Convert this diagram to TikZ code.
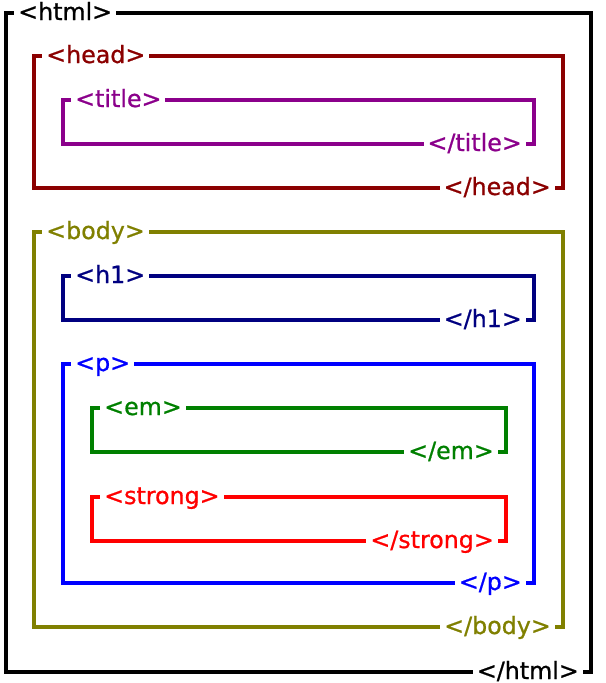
\documentclass[tikz,border=0pt]{standalone}
\usepackage{fontspec}
\setmainfont{DejaVu Sans}[FakeBold=0.8]
\definecolor{headred}{HTML}{8B0000}
\definecolor{titlepurple}{HTML}{8B008B}
\definecolor{bodyolive}{HTML}{808000}
\definecolor{hnavy}{HTML}{000080}
\definecolor{pblue}{HTML}{0000FF}
\definecolor{emgreen}{HTML}{008000}
\definecolor{strongred}{HTML}{FF0000}
\tikzset{
	opentag/.style={anchor=base west, fill=white, inner xsep=3pt, inner ysep=1pt, font=\fontsize{17.8}{20}\selectfont},
	closetag/.style={opentag, anchor=base east}
}

\begin{document}
\begin{tikzpicture}[x=0.75pt, y=-0.75pt]
			%%%%% START %%%%%
			
			\useasboundingbox (0, 0) rectangle (606, 683);
			
			\draw[line width=0.95mm, color=black] (6, 13) rectangle (591, 672);
			\node[opentag, text=black] (htmlopen) at (14, 20) {<html>};
			\node[closetag, text=black] (htmlclose) at (583, 679) {</html>};
			
			\draw[line width=0.8mm, color=headred] (34, 56) rectangle (563, 188);
			\node[opentag, text=headred] (headopen) at (42, 63) {<head>};
			\node[closetag, text=headred] (headclose) at (555, 195) {</head>};
			
			\draw[line width=0.8mm, color=titlepurple] (63, 100) rectangle (534, 144);
			\node[opentag, text=titlepurple] (titleopen) at (71, 107) {<title>};
			\node[closetag, text=titlepurple] (titleclose) at (526, 151) {</title>};
			
			\draw[line width=0.8mm, color=bodyolive] (34, 232) rectangle (563, 627);
			\node[opentag, text=bodyolive] (bodyopen) at (42, 239) {<body>};
			\node[closetag, text=bodyolive] (bodyclose) at (555, 634) {</body>};
			
			\draw[line width=0.8mm, color=hnavy] (63, 276) rectangle (534, 320);
			\node[opentag, text=hnavy] (hopen) at (71, 283) {<h1>};
			\node[closetag, text=hnavy] (hclose) at (526, 327) {</h1>};
			
			\draw[line width=0.8mm, color=pblue] (63, 364) rectangle (534, 583);
			\node[opentag, text=pblue] (popen) at (71, 371) {<p>};
			\node[closetag, text=pblue] (pclose) at (526, 590) {</p>};
			
			\draw[line width=0.8mm, color=emgreen] (92, 408) rectangle (506, 452);
			\node[opentag, text=emgreen] (emopen) at (100, 415) {<em>};
			\node[closetag, text=emgreen] (emclose) at (498, 459) {</em>};
			
			\draw[line width=0.8mm, color=strongred] (92, 497) rectangle (506, 541);
			\node[opentag, text=strongred] (strongopen) at (100, 504) {<strong>};
			\node[closetag, text=strongred] (strongclose) at (498, 548) {</strong>};
			
			%%%%% END %%%%%
		\end{tikzpicture}
\end{document}
